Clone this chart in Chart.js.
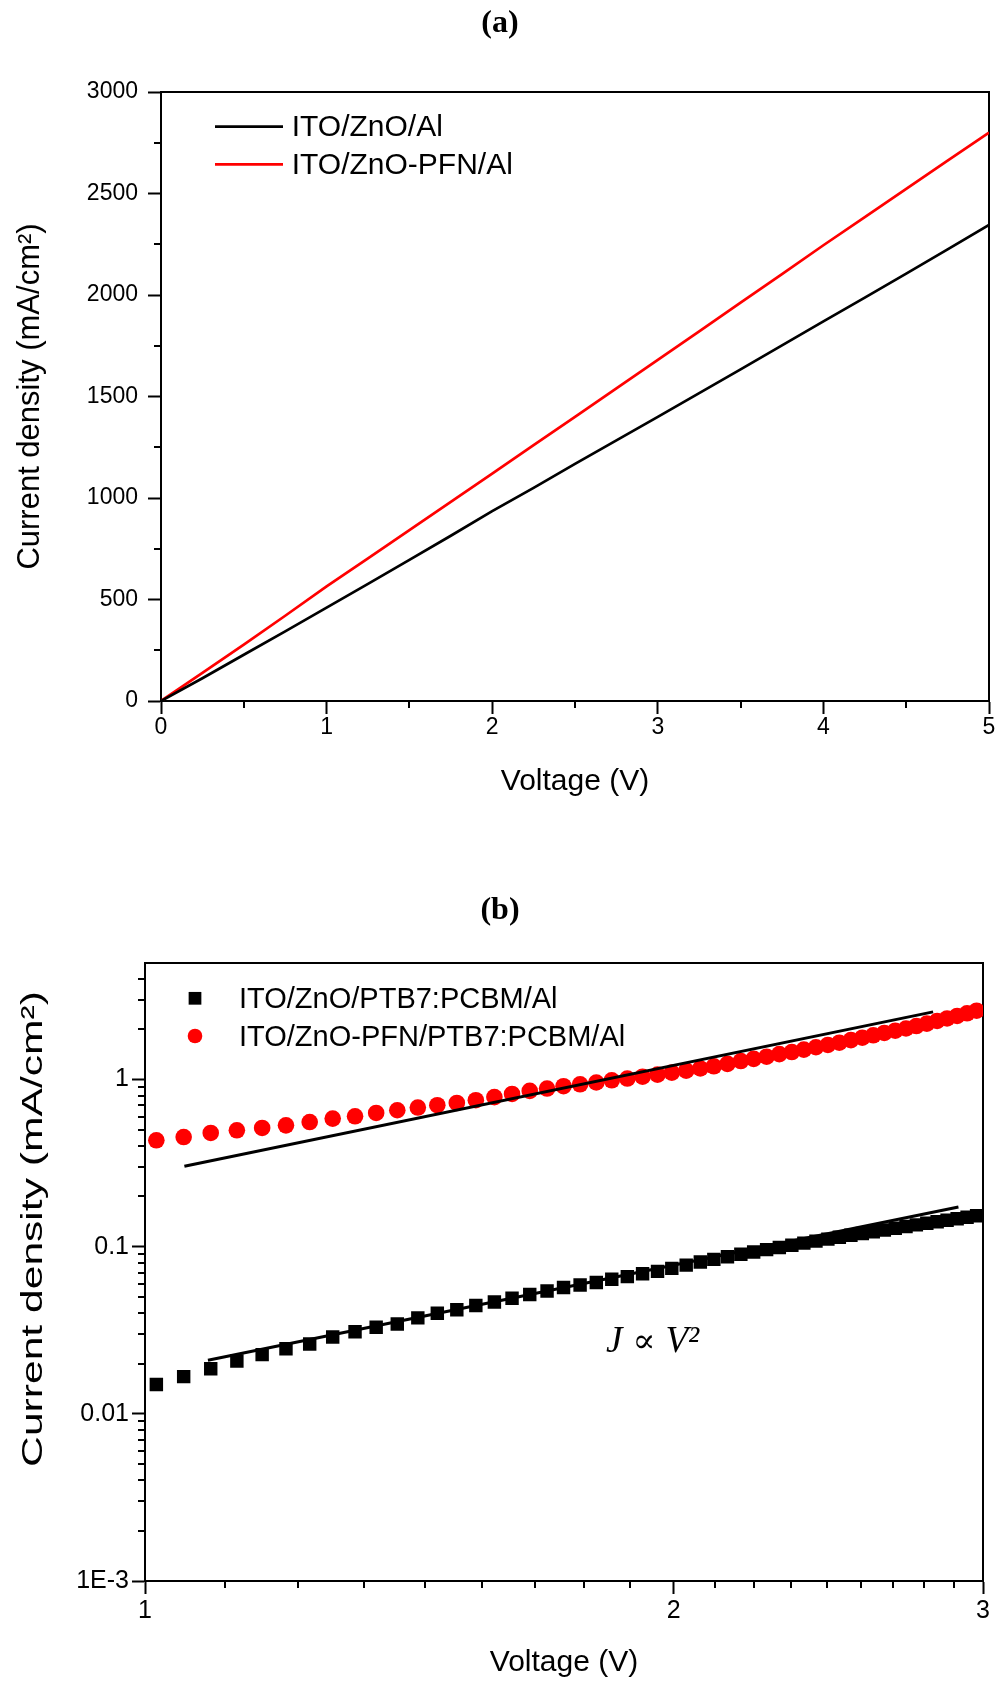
<!DOCTYPE html>
<html><head><meta charset="utf-8">
<script src="https://cdn.jsdelivr.net/npm/chart.js@4.4.1/dist/chart.umd.min.js"></script>
<style>
html,body{margin:0;padding:0;background:#fff;}
#wrap{position:relative;width:999px;height:1684px;background:#fff;}
#ca{position:absolute;left:0;top:0;}
#cb{position:absolute;left:0;top:880px;}
</style></head><body>
<div id="wrap">
<canvas id="ca" width="999" height="830"></canvas>
<canvas id="cb" width="999" height="804"></canvas>
</div>
<script>
// ---------- Panel (a) data ----------
const voltageA = [0,0.25,0.5,0.75,1,1.25,1.5,1.75,2,2.25,2.5,2.75,3,3.25,3.5,3.75,4,4.25,4.5,4.75,5];
const currentZnO = [0,112,228,343,460,577,695,814,935,1050,1168,1284,1400,1517,1634,1752,1870,1987,2105,2225,2345];
const currentPFN = [0,138,278,420,565,703,842,981,1120,1260,1400,1540,1680,1821,1962,2103,2245,2384,2523,2662,2800];
const labelsA = ['ITO/ZnO/Al','ITO/ZnO-PFN/Al'];
const xMajorA = [0,1,2,3,4,5];
const xMinorA = [0.5,1.5,2.5,3.5,4.5];
const yMajorA = [0,500,1000,1500,2000,2500,3000];
const yMinorA = [250,750,1250,1750,2250,2750];

// ---------- Panel (b) data ----------
const voltageB = [1.015,1.052,1.090,1.128,1.166,1.203,1.241,1.279,1.317,1.354,1.392,1.430,1.467,1.505,1.543,1.581,1.618,1.656,1.694,1.731,1.769,1.807,1.844,1.882,1.920,1.958,1.995,2.033,2.071,2.108,2.146,2.184,2.221,2.259,2.297,2.335,2.372,2.410,2.448,2.485,2.523,2.561,2.598,2.636,2.674,2.712,2.749,2.787,2.825,2.862,2.900,2.938,2.975];
const jZnO_B = [0.0150,0.0167,0.0186,0.0207,0.0226,0.0245,0.0262,0.0288,0.0310,0.0330,0.0345,0.0375,0.0400,0.0420,0.0445,0.0467,0.0492,0.0518,0.0543,0.0570,0.0590,0.0610,0.0638,0.0662,0.0688,0.0712,0.0742,0.0776,0.081,0.084,0.087,0.090,0.093,0.096,0.099,0.102,0.105,0.108,0.111,0.114,0.117,0.120,0.123,0.126,0.129,0.132,0.135,0.138,0.141,0.144,0.147,0.150,0.153];
const jPFN_B = [0.433,0.453,0.479,0.497,0.513,0.532,0.557,0.584,0.603,0.631,0.655,0.680,0.702,0.724,0.752,0.785,0.82,0.855,0.883,0.912,0.937,0.960,0.99,1.014,1.04,1.07,1.10,1.13,1.165,1.20,1.24,1.29,1.33,1.37,1.42,1.46,1.51,1.56,1.61,1.66,1.72,1.78,1.84,1.90,1.96,2.02,2.09,2.16,2.24,2.32,2.40,2.49,2.58];
const fitUpperV = [1.053, 2.81];
const fitUpperJ = [0.303, 2.54];
const fitLowerV = [1.086, 2.905];
const fitLowerJ = [0.0209, 0.1726];
const labelsB = ['ITO/ZnO/PTB7:PCBM/Al','ITO/ZnO-PFN/PTB7:PCBM/Al'];
const xMajorB = [1,2,3];
const xMajorLabelsB = ['1','2','3'];
const xMinorB = [1.111,1.222,1.333,1.444,1.556,1.667,1.778,1.889,2.111,2.222,2.333,2.444,2.556,2.667,2.778,2.889];
const yMajorB = [0.001,0.01,0.1,1];
const yMajorLabelsB = ['1E-3','0.01','0.1','1'];
const yMinorB = [0.002,0.003,0.004,0.005,0.006,0.007,0.008,0.009,0.02,0.03,0.04,0.05,0.06,0.07,0.08,0.09,0.2,0.3,0.4,0.5,0.6,0.7,0.8,0.9,2,3,4];
const annotationParts = ['J', '\u221D', 'V\u00B2'];
const annotationAt = {x: 1.83, y: 0.0233};

const pts = (xs, ys) => xs.map((x, i) => ({x, y: ys[i]}));

Chart.defaults.color = '#000';
Chart.defaults.font.family = '"Liberation Sans", Arial, sans-serif';

// minor ticks drawn through the scales
const minorTicks = {
  id: 'minorTicks',
  afterDraw(chart, args, o) {
    if (!o || !o.x) return;
    const ctx = chart.ctx, a = chart.chartArea;
    const sx = chart.scales.x, sy = chart.scales.y;
    ctx.save();
    ctx.strokeStyle = '#000';
    ctx.lineWidth = o.width;
    ctx.beginPath();
    o.x.forEach(v => { const p = Math.round(sx.getPixelForValue(v)); ctx.moveTo(p, a.bottom); ctx.lineTo(p, a.bottom + o.len); });
    o.y.forEach(v => { const p = Math.round(sy.getPixelForValue(v)); ctx.moveTo(a.left - o.len, p); ctx.lineTo(a.left, p); });
    ctx.stroke();
    ctx.restore();
  }
};

const insetLegend = {
  id: 'insetLegend',
  afterDraw(chart, args, o) {
    if (!o || !o.items) return;
    const ctx = chart.ctx;
    ctx.save();
    ctx.font = o.font;
    ctx.textBaseline = 'middle';
    ctx.textAlign = 'left';
    o.items.forEach((idx, i) => {
      const ds = chart.data.datasets[idx];
      const y = o.y + i * o.spacing;
      if (o.symbol === 'line') {
        ctx.strokeStyle = ds.borderColor; ctx.lineWidth = ds.borderWidth;
        ctx.beginPath(); ctx.moveTo(o.x, y); ctx.lineTo(o.x + o.sampleWidth, y); ctx.stroke();
      } else {
        ctx.fillStyle = ds.backgroundColor;
        ctx.strokeStyle = ds.borderColor;
        Chart.helpers.drawPoint(ctx, {pointStyle: ds.pointStyle, radius: o.markerRadius[i], rotation: 0, borderWidth: 0}, o.x, y);
      }
      ctx.fillStyle = '#000';
      ctx.fillText(ds.label, o.textX, y + o.textDy);
    });
    ctx.restore();
  }
};

// "J ∝ V²" placed at a data coordinate
const textNote = {
  id: 'textNote',
  afterDraw(chart, args, o) {
    if (!o || !o.parts) return;
    const ctx = chart.ctx;
    ctx.save();
    ctx.fillStyle = '#000';
    ctx.textAlign = 'left';
    ctx.textBaseline = 'alphabetic';
    let x = chart.scales.x.getPixelForValue(o.at.x);
    const y = chart.scales.y.getPixelForValue(o.at.y);
    o.parts.forEach((t, i) => {
      ctx.font = o.fonts[i];
      ctx.fillText(t, x, y);
      x += ctx.measureText(t).width + o.gap;
    });
    ctx.restore();
  }
};

// rotated axis title, stretched along its length like the original
const stretchedYTitle = {
  id: 'stretchedYTitle',
  afterDraw(chart, args, o) {
    if (!o || !o.text) return;
    const ctx = chart.ctx;
    ctx.save();
    ctx.translate(o.cx, o.cy);
    ctx.rotate(-Math.PI / 2);
    ctx.scale(o.stretch, 1);
    ctx.font = o.font;
    ctx.fillStyle = '#000';
    ctx.textAlign = 'center';
    ctx.textBaseline = 'middle';
    ctx.fillText(o.text, 0, 0);
    ctx.restore();
  }
};

Chart.register(minorTicks, insetLegend, textNote, stretchedYTitle);

function frameAxis(pos) {
  return {
    position: pos, display: true,
    grid: {display: true, drawOnChartArea: false, drawTicks: false},
    ticks: {display: false},
    border: {display: true, width: 2, color: '#000'},
    afterFit(s) { if (pos === 'top') s.height = 0; else s.width = 0; }
  };
}

// ---------- Chart (a) ----------
new Chart(document.getElementById('ca'), {
  type: 'line',
  data: {
    datasets: [
      {label: labelsA[0], data: pts(voltageA, currentZnO), borderColor: '#000000', backgroundColor: '#000000', borderWidth: 2.7, pointRadius: 0, tension: 0},
      {label: labelsA[1], data: pts(voltageA, currentPFN), borderColor: '#ff0000', backgroundColor: '#ff0000', borderWidth: 2.7, pointRadius: 0, tension: 0}
    ]
  },
  options: {
    responsive: false, animation: false,
    layout: {padding: {left: 11, right: 10, top: 0, bottom: 0}},
    plugins: {
      legend: {display: false}, tooltip: {enabled: false},
      title: {display: true, text: '(a)', color: '#000', font: {family: '"Liberation Serif", "Times New Roman", serif', size: 32, weight: 'bold', lineHeight: 1.2}, padding: {top: 4.8, bottom: 48.8}},
      minorTicks: {x: xMinorA, y: yMinorA, len: 7, width: 2},
      insetLegend: {items: [0, 1], symbol: 'line', x: 215, y: 126.7, spacing: 37.6, sampleWidth: 68, textX: 291.7, textDy: 1.5, font: '30px "Liberation Sans", Arial, sans-serif'}
    },
    scales: {
      x: {
        type: 'linear', position: 'bottom', min: 0, max: 5,
        afterBuildTicks(s) { s.ticks = xMajorA.map(v => ({value: v})); },
        ticks: {font: {size: 23}, padding: 0, maxRotation: 0, autoSkip: false, callback: (v) => String(v)},
        grid: {display: true, drawOnChartArea: false, drawTicks: true, tickLength: 13, tickWidth: 2, tickColor: '#000'},
        border: {display: true, width: 2, color: '#000'},
        title: {display: true, text: 'Voltage (V)', font: {size: 30}, padding: {top: 0, bottom: 30}},
        afterFit(s) { s.height = 129; }
      },
      y: {
        type: 'linear', position: 'left', min: 0, max: 3000,
        afterBuildTicks(s) { s.ticks = yMajorA.map(v => ({value: v})); },
        ticks: {font: {size: 23}, padding: 10, autoSkip: false, callback: (v) => String(v)},
        grid: {display: true, drawOnChartArea: false, drawTicks: true, tickLength: 13, tickWidth: 2, tickColor: '#000'},
        border: {display: true, width: 2, color: '#000'},
        title: {display: true, text: 'Current density (mA/cm\u00B2)', font: {size: 31}, padding: {top: 1, bottom: 0}},
        afterFit(s) { s.width = 150; }
      },
      xTop: Object.assign({type: 'linear', min: 0, max: 5}, frameAxis('top')),
      yRight: Object.assign({type: 'linear', min: 0, max: 3000}, frameAxis('right'))
    }
  }
});

// ---------- Chart (b) ----------
new Chart(document.getElementById('cb'), {
  type: 'scatter',
  data: {
    datasets: [
      {type: 'line', label: 'fit upper', data: pts(fitUpperV, fitUpperJ), borderColor: '#000', borderWidth: 3, pointRadius: 0, order: 0},
      {type: 'line', label: 'fit lower', data: pts(fitLowerV, fitLowerJ), borderColor: '#000', borderWidth: 3, pointRadius: 0, order: 0},
      {label: labelsB[0], data: pts(voltageB, jZnO_B), pointStyle: 'rect', pointRadius: 9.5, backgroundColor: '#000', borderColor: '#000', borderWidth: 0, order: 1},
      {label: labelsB[1], data: pts(voltageB, jPFN_B), pointStyle: 'circle', pointRadius: 8.3, backgroundColor: '#ff0000', borderColor: '#ff0000', borderWidth: 0, order: 2}
    ]
  },
  options: {
    responsive: false, animation: false,
    layout: {padding: {left: 17, right: 16, top: 0, bottom: 0}},
    plugins: {
      legend: {display: false}, tooltip: {enabled: false},
      title: {display: true, text: '(b)', color: '#000', font: {family: '"Liberation Serif", "Times New Roman", serif', size: 32, weight: 'bold', lineHeight: 1.2}, padding: {top: 11.8, bottom: 32.5}},
      minorTicks: {x: xMinorB, y: yMinorB, len: 7, width: 2},
      insetLegend: {items: [2, 3], symbol: 'point', x: 195, y: 118.3, spacing: 37.7, markerRadius: [9, 7.3], textX: 239, textDy: 1.5, font: '29px "Liberation Sans", Arial, sans-serif'},
      textNote: {parts: annotationParts, at: annotationAt, gap: 10, fonts: ['italic 37px "Liberation Serif", "Times New Roman", serif', '34px "DejaVu Serif", serif', 'italic 37px "Liberation Serif", "Times New Roman", serif']},
      stretchedYTitle: {text: 'Current density (mA/cm\u00B2)', cx: 34, cy: 349, stretch: 1.42, font: '30px "Liberation Sans", Arial, sans-serif'}
    },
    scales: {
      x: {
        type: 'logarithmic', position: 'bottom', min: 1, max: 3,
        afterBuildTicks(s) { s.ticks = xMajorB.map(v => ({value: v})); },
        ticks: {font: {size: 25}, padding: 2, maxRotation: 0, autoSkip: false, callback: (v) => xMajorLabelsB[xMajorB.indexOf(v)] ?? ''},
        grid: {display: true, drawOnChartArea: false, drawTicks: true, tickLength: 13, tickWidth: 2, tickColor: '#000'},
        border: {display: true, width: 2, color: '#000'},
        title: {display: true, text: 'Voltage (V)', font: {size: 30}, padding: {top: 0, bottom: 3}},
        afterFit(s) { s.height = 103; }
      },
      y: {
        type: 'logarithmic', position: 'left', min: 0.001, max: 5,
        afterBuildTicks(s) { s.ticks = yMajorB.map(v => ({value: v})); },
        ticks: {font: {size: 25}, padding: 3, autoSkip: false, callback: (v) => { const i = yMajorB.findIndex(t => Math.abs(t - v) / t < 1e-6); return i >= 0 ? yMajorLabelsB[i] : ''; }},
        grid: {display: true, drawOnChartArea: false, drawTicks: true, tickLength: 13, tickWidth: 2, tickColor: '#000'},
        border: {display: true, width: 2, color: '#000'},
        title: {display: false},
        afterFit(s) { s.width = 128; }
      },
      xTop: Object.assign({type: 'logarithmic', min: 1, max: 3}, frameAxis('top')),
      yRight: Object.assign({type: 'logarithmic', min: 0.001, max: 5}, frameAxis('right'))
    }
  }
});
</script>
</body></html>
